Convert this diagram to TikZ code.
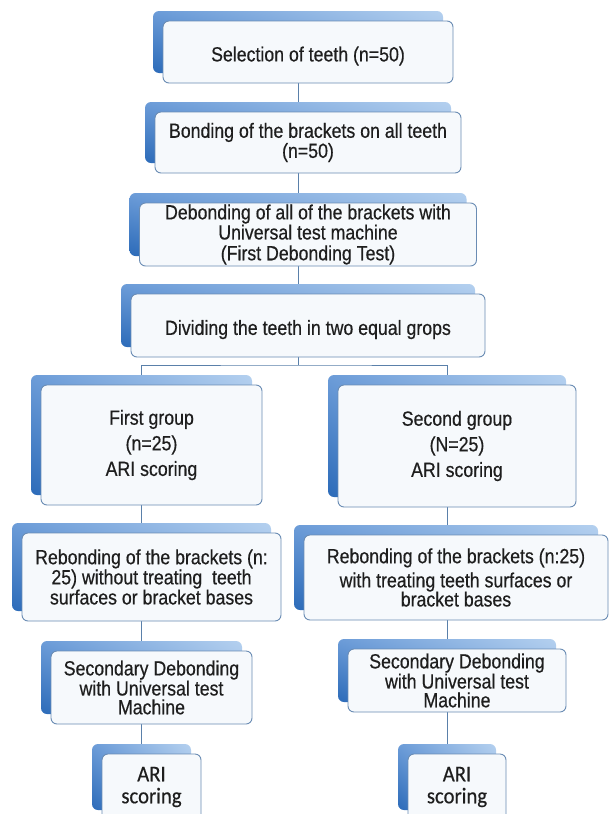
\documentclass[tikz,border=0pt]{standalone}
\usepackage{fontspec}
\setmainfont{Liberation Sans}[FakeStretch=0.865,FakeBold=0.5]
\newfontfamily\calfont{Carlito}[FakeStretch=0.92,FakeBold=0.4]
\usetikzlibrary{shadows,shadings,backgrounds,calc}
\definecolor{bkA}{HTML}{6C9CD8}
\definecolor{bkB}{HTML}{B4D0EF}
\definecolor{bkC}{HTML}{2C6BB9}
\definecolor{bkD}{HTML}{8CB2E0}
\definecolor{edge}{HTML}{6A8CB4}
\definecolor{face}{HTML}{F6F9FC}
\definecolor{linkc}{HTML}{5A80AA}
\definecolor{ink}{HTML}{1E1E1E}
\tikzset{
  box/.style={draw=edge, line width=0.9pt, rounded corners=6pt, fill=face,
    align=center, inner sep=0pt, text=ink, font=\fontsize{20.5}{18.8}\selectfont,
    general shadow={shadow xshift=-10pt, shadow yshift=10pt,
      upper left=bkA, upper right=bkB, lower left=bkC, lower right=bkD}},
  lowered/.style={execute at begin node={\rule{0pt}{#1}}},
  arifont/.style={font=\calfont\fontsize{22.5}{22}\selectfont},
  link/.style={draw=linkc, line width=0.9pt},
}
\begin{document}
\begin{tikzpicture}[x=1pt,y=-1pt]
\useasboundingbox (0,0) rectangle (609,814);
\clip (0,0) rectangle (609,814);

\node[box, lowered=23pt, minimum width=290pt, minimum height=62pt] (sel) at (308,52) {Selection of teeth (n=50)};
\node[box, lowered=23pt, minimum width=306pt, minimum height=61pt] (bond) at (308,142.5) {Bonding of the brackets on all teeth\\(n=50)};
\node[box, minimum width=337pt, minimum height=63pt] (deb) at (308,234.5) {Debonding of all of the brackets with\\Universal test machine\\[2pt](First Debonding Test)};
\node[box, lowered=23pt, minimum width=354pt, minimum height=63pt] (div) at (308,325.5) {Dividing the teeth in two equal grops};

\node[box, lowered=25pt, minimum width=221pt, minimum height=120pt] (g1) at (151.5,445) {First group\\[5.5pt](n=25)\\[5.5pt]ARI scoring};
\node[box, lowered=25pt, minimum width=238pt, minimum height=122pt] (g2) at (457,446) {Second group\\[5.5pt](N=25)\\[5.5pt]ARI scoring};

\node[box, lowered=19pt, minimum width=259pt, minimum height=88pt] (reb1) at (151.5,577) {Rebonding of the brackets (n:\\25) without treating\ \ teeth\\surfaces or bracket bases};
\node[box, lowered=21pt, minimum width=304pt, minimum height=85pt] (reb2) at (456,577.5) {Rebonding of the brackets (n:25)\\[4pt]with treating teeth surfaces or\\[-1pt]bracket bases};

\node[box, minimum width=201pt, minimum height=73pt] (sec1) at (151.5,687.5) {Secondary Debonding\\with Universal test\\Machine};
\node[box, minimum width=218pt, minimum height=63pt] (sec2) at (457,680.5) {Secondary Debonding\\with Universal test\\Machine};

\node[box, arifont, lowered=19pt, minimum width=99pt, minimum height=66pt] (ari1) at (151.5,787) {ARI\\scoring};
\node[box, arifont, lowered=19pt, minimum width=98pt, minimum height=66pt] (ari2) at (457,787) {ARI\\scoring};

\coordinate (jn) at (298,365);

\begin{scope}[on background layer]
  \fill[white] (0,0) rectangle (609,814);
  \draw[link] ([xshift=-10pt]sel.south) -- ([xshift=-10pt]sel.south |- bond.north);
  \draw[link] ([xshift=-10pt]bond.south) -- ([xshift=-10pt]bond.south |- deb.north);
  \draw[link] ([xshift=-10pt]deb.south) -- ([xshift=-10pt]deb.south |- div.north);
  \draw[link] ([xshift=-10pt]div.south) -- (jn);
  \draw[link] ([xshift=-10pt]g1.north) |- (jn) -| ([xshift=-10pt]g2.north);
  \draw[link] ([xshift=-10pt]g1.south) -- ([xshift=-10pt]g1.south |- reb1.north);
  \draw[link] ([xshift=-10pt]reb1.south) -- ([xshift=-10pt]reb1.south |- sec1.north);
  \draw[link] ([xshift=-10pt]sec1.south) -- ([xshift=-10pt]sec1.south |- ari1.north);
  \draw[link] ([xshift=-10pt]g2.south) -- ([xshift=-10pt]g2.south |- reb2.north);
  \draw[link] ([xshift=-9pt]reb2.south) -- ([xshift=-9pt]reb2.south |- sec2.north);
  \draw[link] ([xshift=-10pt]sec2.south) -- ([xshift=-10pt]sec2.south |- ari2.north);
\end{scope}
\end{tikzpicture}
\end{document}
